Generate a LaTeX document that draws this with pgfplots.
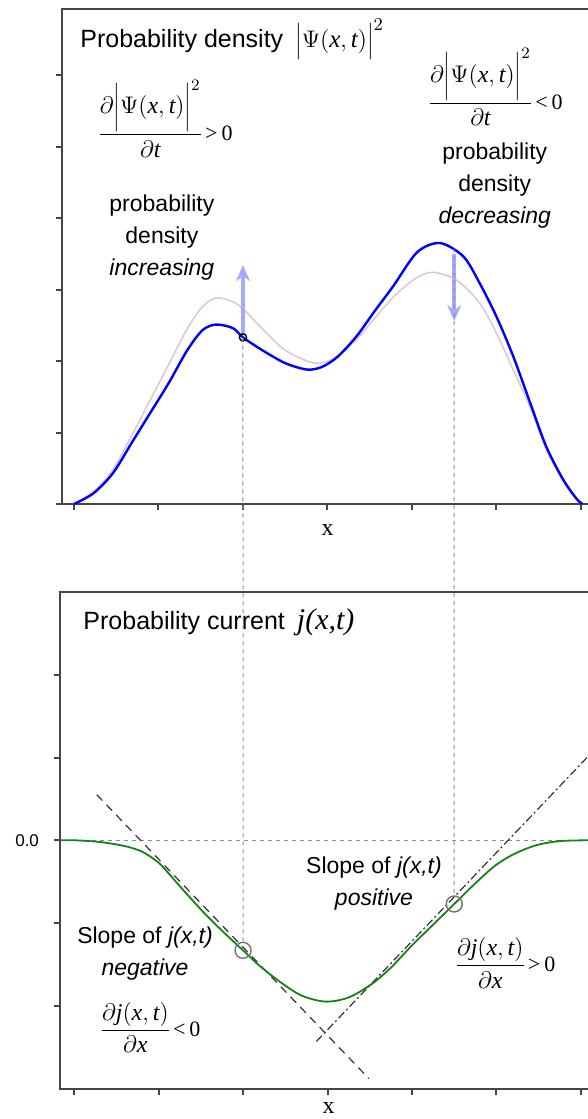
\documentclass[border=0pt]{standalone}
\usepackage{pgfplots}
\pgfplotsset{compat=1.18}
\usepackage{fontspec}
\setmainfont{Liberation Sans}
\newfontfamily\serif{Liberation Serif}
\usetikzlibrary{arrows.meta}

\definecolor{psiblue}{RGB}{0,0,255}
\definecolor{oldpsi}{RGB}{222,198,222}
\definecolor{jgreen}{RGB}{20,130,20}
\definecolor{arrowblue}{RGB}{165,170,255}
\definecolor{guide}{RGB}{140,140,140}
\definecolor{frame}{RGB}{70,70,70}

% Times-like italic variables
\newcommand{\vx}{\mbox{\serif\itshape x}}
\newcommand{\vt}{\mbox{\serif\itshape t}}
\newcommand{\vj}{\mbox{\serif\itshape j}}
% small "> 0" / "< 0" after a fraction
\newcommand{\cmp}[1]{\mbox{\fontsize{11}{11}\selectfont\serif\hspace{1pt}#1\hspace{2pt}0}}

\pgfplotsset{
  panel/.style={
    scale only axis,
    axis line style={draw=frame, line width=1pt},
    tick style={draw=frame, line width=1pt},
    tick align=outside, tick pos=left,
    major tick length=3pt,
    xtick={0,...,6}, xticklabels={},
    xlabel={\fontsize{12}{12}\selectfont\serif x},
  },
}
\tikzset{
  note/.style={font=\fontsize{11.5}{16}\selectfont, align=center},
  formula/.style={anchor=base west, inner sep=0pt, font=\fontsize{12}{14}\selectfont},
}

\begin{document}
\begin{tikzpicture}
\useasboundingbox (0,0) rectangle (294pt,-559.5pt);

% ---- top panel: probability density
\begin{axis}[panel,
    at={(31pt,-252pt)}, anchor=south west,
    width=263.5pt, height=247.75pt,
    xmin=-0.142, xmax=6.095, ymin=0, ymax=6.93,
    ytick={0,...,6}, yticklabels={},
    xlabel style={at={(axis description cs:0.504,0)}, anchor=center, yshift=-13pt},
]
% earlier time (faded)
\addplot[oldpsi, line width=0.8pt, smooth] coordinates {
  (0,0)(0.23,0.17)(0.46,0.48)(0.68,0.95)(0.90,1.45)(1.12,1.95)(1.34,2.45)
  (1.52,2.76)(1.68,2.88)(1.86,2.84)(2.0,2.73)(2.23,2.45)(2.5,2.15)(2.85,1.97)
  (3.1,2.05)(3.34,2.3)(3.56,2.6)(3.8,2.92)(4.05,3.16)(4.25,3.24)(4.53,3.13)
  (4.80,2.81)(5.0,2.39)(5.2,1.87)(5.40,1.35)(5.59,0.76)(5.79,0.32)
  (5.95,0.06)(6.02,0)
};
% current time
\addplot[psiblue, line width=1.2pt, smooth] coordinates {
  (0,0)(0.23,0.15)(0.46,0.43)(0.68,0.85)(0.90,1.27)(1.12,1.69)(1.34,2.15)
  (1.52,2.43)(1.68,2.51)(1.88,2.46)(2.0,2.33)(2.23,2.15)(2.50,1.97)
  (2.76,1.88)(2.94,1.92)(3.12,2.06)(3.34,2.34)(3.56,2.70)(3.78,3.05)
  (4.06,3.52)(4.33,3.65)(4.61,3.46)(4.80,3.09)(5.0,2.62)(5.20,2.06)
  (5.40,1.41)(5.59,0.80)(5.79,0.34)(5.95,0.07)(6.02,0)
};
\addplot[arrowblue, line width=2.2pt, -{Stealth[length=8pt,width=7pt]}]
  coordinates {(2,2.36)(2,3.34)};
\addplot[arrowblue, line width=2.2pt, -{Stealth[length=8pt,width=7pt]}]
  coordinates {(4.5,3.5)(4.5,2.56)};
\addplot[only marks, mark=o, mark size=1.8pt, black, line width=0.7pt]
  coordinates {(2,2.33)};
\coordinate (TL) at (axis cs:2,2.33);
\coordinate (TR) at (axis cs:4.5,3.57);

\node[anchor=base west, inner sep=0pt, font=\fontsize{12.5}{14}\selectfont]
  at (axis cs:0.071,6.38) {Probability density\hspace{6pt}$\Bigl|\Psi(\vx,\vt)\Bigr|^2$};
\node[formula] at (axis cs:0.272,5.08)
  {$\displaystyle\frac{\partial\biggl|\Psi(\vx,\vt)\biggr|^2}{\partial\vt}\cmp{>}$};
\node[note] at (axis cs:1.04,3.73) {probability\\density\\\textit{increasing}};
\node[formula] at (axis cs:4.18,5.52)
  {$\displaystyle\frac{\partial\biggl|\Psi(\vx,\vt)\biggr|^2}{\partial\vt}\cmp{<}$};
\node[note] at (axis cs:4.98,4.45) {probability\\density\\\textit{decreasing}};
\end{axis}

% ---- bottom panel: probability current
\begin{axis}[panel,
    at={(30pt,-544.25pt)}, anchor=south west,
    width=264.5pt, height=248.25pt,
    xmin=-0.166, xmax=6.095, ymin=-3, ymax=3,
    ytick={-2,...,2}, yticklabels={,,0.0,,},
    yticklabel style={font=\fontsize{8.5}{10}\selectfont, xshift=-4pt},
    xlabel style={at={(axis description cs:0.508,0)}, anchor=center, yshift=-9.5pt},
]
\addplot[guide, line width=0.5pt, dash pattern=on 2pt off 2pt]
  coordinates {(-0.166,0)(6.095,0)};
\addplot[black!80, line width=0.6pt, dash pattern=on 4pt off 3pt]
  coordinates {(0.27,0.55)(3.49,-2.88)};
\addplot[black!80, line width=0.6pt, dash pattern=on 4pt off 1.5pt on 1pt off 1.5pt]
  coordinates {(2.87,-2.43)(6.1,1.03)};
\addplot[jgreen, line width=0.9pt, smooth] coordinates {
  (-0.166,0)(0,0)(0.3,-0.02)(0.6,-0.07)(0.81,-0.14)(1.0,-0.27)(1.12,-0.4)
  (1.3,-0.61)(1.56,-0.9)(1.8,-1.14)(2.0,-1.33)(2.2,-1.52)(2.45,-1.72)
  (2.7,-1.88)(2.98,-1.95)(3.25,-1.9)(3.52,-1.74)(3.75,-1.54)(4.0,-1.27)
  (4.25,-1.02)(4.5,-0.77)(4.75,-0.52)(4.98,-0.31)(5.2,-0.17)(5.47,-0.06)
  (5.75,-0.01)(6.095,0)
};
\addplot[only marks, mark=o, mark size=4pt, black!55, line width=0.7pt]
  coordinates {(2,-1.33)(4.5,-0.77)};
\coordinate (BL) at (axis cs:2,-1.33);
\coordinate (BR) at (axis cs:4.5,-0.77);

\node[anchor=west, inner sep=0pt, font=\fontsize{12.5}{14}\selectfont]
  at (axis cs:0.107,2.63) {Probability current\hspace{6pt}{\serif\itshape\fontsize{15}{16}\selectfont j(x,t)}};
\node[note] at (axis cs:3.55,-0.52) {Slope of \textit{j(x,t)}\\\textit{positive}};
\node[note] at (axis cs:0.84,-1.37) {Slope of \textit{j(x,t)}\\\textit{negative}};
\node[formula] at (axis cs:0.30,-2.37)
  {$\displaystyle\frac{\partial\vj(\vx,\vt)}{\partial\vx}\cmp{<}$};
\node[formula] at (axis cs:4.50,-1.59)
  {$\displaystyle\frac{\partial\vj(\vx,\vt)}{\partial\vx}\cmp{>}$};
\end{axis}

% guides joining the two panels
\draw[guide, line width=0.5pt, dash pattern=on 2pt off 2pt, shorten >=4pt] (TL) -- (BL);
\draw[guide, line width=0.5pt, dash pattern=on 2pt off 2pt, shorten >=4pt] (TR) -- (BR);
\end{tikzpicture}
\end{document}
